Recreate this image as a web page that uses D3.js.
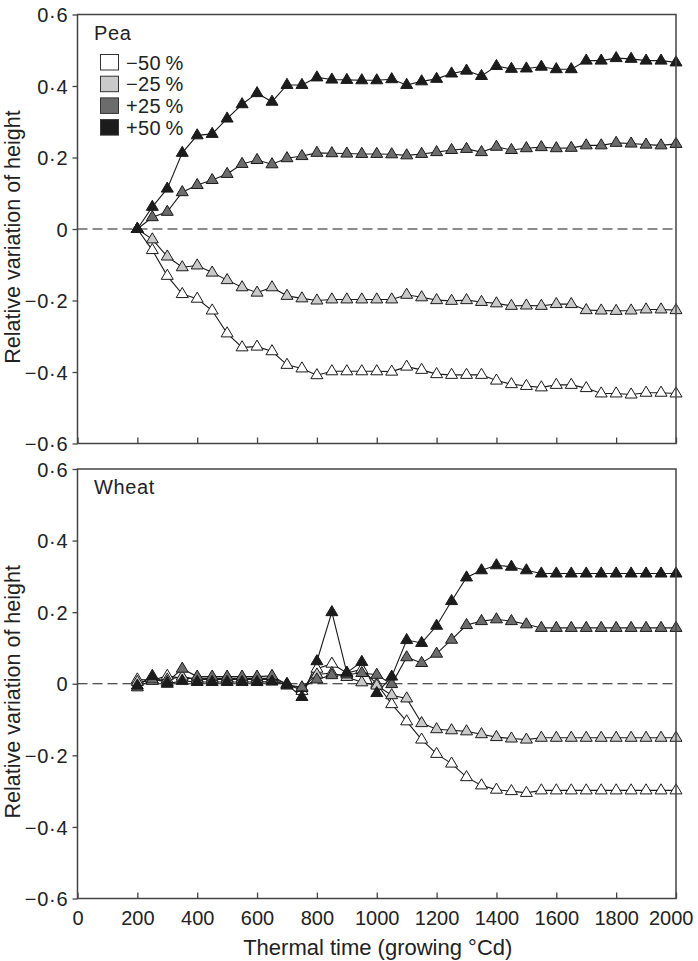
<!DOCTYPE html>
<html><head><meta charset="utf-8">
<script src="https://cdn.jsdelivr.net/npm/d3@7"></script>
<style>body{margin:0;background:#fff}svg{display:block}</style>
</head><body><svg id="c" width="698" height="961"></svg>
<script>
// ---------- data ----------
const thermalTime = [200,250,300,350,400,450,500,550,600,650,700,750,800,850,900,950,1000,1050,1100,1150,1200,1250,1300,1350,1400,1450,1500,1550,1600,1650,1700,1750,1800,1850,1900,1950,2000];
const seriesNames = ["−50\u2009%","−25\u2009%","+25\u2009%","+50\u2009%"];
const panelNames = ["Pea","Wheat"];

const peaMinus50 = [0,-0.059,-0.131,-0.182,-0.195,-0.228,-0.292,-0.331,-0.329,-0.342,-0.38,-0.39,-0.409,-0.398,-0.398,-0.398,-0.398,
  -0.399,-0.385,-0.394,-0.406,-0.408,-0.408,-0.408,-0.424,-0.434,-0.439,-0.443,-0.436,-0.436,-0.445,-0.46,-0.46,-0.463,-0.458,-0.458,-0.46];
const peaMinus25 = [0,-0.029,-0.077,-0.107,-0.102,-0.122,-0.143,-0.163,-0.178,-0.163,-0.187,-0.194,-0.2,-0.197,-0.197,-0.197,-0.197,
  -0.197,-0.184,-0.191,-0.199,-0.201,-0.199,-0.204,-0.208,-0.215,-0.214,-0.215,-0.21,-0.21,-0.227,-0.228,-0.229,-0.228,-0.225,-0.225,-0.227];
const peaPlus25 = [0,0.033,0.048,0.103,0.123,0.137,0.154,0.182,0.193,0.181,0.198,0.204,0.213,0.212,0.211,0.21,0.21,
  0.209,0.206,0.21,0.215,0.221,0.224,0.215,0.23,0.221,0.226,0.229,0.226,0.227,0.234,0.234,0.241,0.239,0.236,0.234,0.238];
const peaPlus50 = [0,0.062,0.113,0.213,0.262,0.266,0.309,0.349,0.38,0.356,0.403,0.403,0.424,0.418,0.417,0.416,0.416,
  0.419,0.403,0.413,0.42,0.435,0.443,0.428,0.456,0.448,0.449,0.454,0.447,0.447,0.471,0.471,0.478,0.476,0.471,0.471,0.466];

const wheatMinus50 = [0.012,0.01,0.022,0.015,0.015,0.015,0.015,0.015,0.015,0.015,0.0,-0.02,0.042,0.056,0.03,0.04,0.0,
  -0.057,-0.105,-0.156,-0.196,-0.223,-0.261,-0.284,-0.296,-0.3,-0.305,-0.298,-0.298,-0.298,-0.298,-0.298,-0.298,-0.298,-0.298,-0.298,-0.298];
const wheatMinus25 = [0.005,0.008,0.012,0.02,0.012,0.012,0.012,0.012,0.012,0.012,-0.005,-0.012,0.026,0.03,0.019,0.004,-0.005,
  -0.032,-0.041,-0.11,-0.127,-0.13,-0.133,-0.141,-0.149,-0.153,-0.156,-0.151,-0.151,-0.151,-0.151,-0.151,-0.151,-0.151,-0.151,-0.151,-0.151];
const wheatPlus25 = [-0.01,0.012,0.005,0.042,0.02,0.02,0.02,0.02,0.02,0.022,-0.003,-0.01,0.012,0.024,0.026,0.03,0.025,
  -0.001,0.074,0.058,0.084,0.123,0.164,0.175,0.18,0.175,0.166,0.156,0.156,0.156,0.156,0.156,0.156,0.156,0.156,0.156,0.156];
const wheatPlus50 = [-0.005,0.022,0.0,0.008,0.005,0.005,0.005,0.005,0.005,0.006,-0.002,-0.037,0.063,0.2,0.031,0.061,-0.026,
  0.02,0.122,0.114,0.162,0.231,0.297,0.317,0.331,0.327,0.317,0.308,0.308,0.308,0.308,0.308,0.308,0.308,0.308,0.308,0.308];

const yTicks = [-0.6,-0.4,-0.2,0,0.2,0.4,0.6];
const yTickLabels = ["−0·6","−0·4","−0·2","0","0·2","0·4","0·6"];
const xTicks = [0,200,400,600,800,1000,1200,1400,1600,1800,2000];
const xTickLabels = ["0","200","400","600","800","1000","1200","1400","1600","1800","2000"];
const xTitle = "Thermal time (growing °Cd)";
const yTitle = "Relative variation of height";

// ---------- styling ----------
const fills = ["#ffffff","#c9c9c9","#6c6c6c","#1c1c1c"];
const FONT = "'Liberation Sans', Arial, Helvetica, sans-serif";
const svg = d3.select("#c");

const x = d3.scaleLinear().domain([0,2000]).range([77.5,676]);
const panels = [
  {name: panelNames[0], series:[peaMinus50,peaMinus25,peaPlus25,peaPlus50], top:14.5, bottom:443.5, legend:true, xLabels:false},
  {name: panelNames[1], series:[wheatMinus50,wheatMinus25,wheatPlus25,wheatPlus50], top:469, bottom:898.5, legend:false, xLabels:true}
];

const tri = "M0,-6.6L6,3.5L-6,3.5Z";

panels.forEach(p => {
  const y = d3.scaleLinear().domain([-0.6,0.6]).range([p.bottom,p.top]);
  const g = svg.append("g");

  // zero dashed line
  g.append("line").attr("x1",x(0)).attr("x2",x(2000)).attr("y1",y(0)).attr("y2",y(0))
    .attr("stroke","#1a1a1a").attr("stroke-width",1.2).attr("stroke-dasharray","10,5");

  // series
  p.series.forEach((vals,i) => {
    const pts = thermalTime.map((t,k)=>[t,vals[k]]);
    g.append("path").datum(pts)
      .attr("d", d3.line().x(d=>x(d[0])).y(d=>y(d[1])))
      .attr("fill","none").attr("stroke","#1a1a1a").attr("stroke-width",1.1);
  });
  p.series.forEach((vals,i) => {
    g.append("g").selectAll("path").data(thermalTime.map((t,k)=>[t,vals[k]])).join("path")
      .attr("d",tri).attr("transform",d=>`translate(${x(d[0])},${y(d[1])})`)
      .attr("fill",fills[i]).attr("stroke","#1a1a1a").attr("stroke-width",1);
  });

  // frame
  g.append("rect").attr("x",x(0)).attr("y",p.top).attr("width",x(2000)-x(0)).attr("height",p.bottom-p.top)
    .attr("fill","none").attr("stroke","#444").attr("stroke-width",1.5);

  // y axis
  const ya = d3.axisLeft(y).tickValues(yTicks).tickSize(5).tickPadding(4)
    .tickFormat((d,i)=>yTickLabels[i]);
  const yg = g.append("g").attr("transform",`translate(${x(0)},0)`).call(ya);
  yg.select(".domain").remove();
  yg.selectAll("line").attr("stroke","#444").attr("stroke-width",1.3);
  yg.selectAll("text").attr("font-family",FONT).attr("font-size",20).attr("fill","#222")
    .attr("letter-spacing","0.8px").attr("dy","0.36em");

  // x axis (ticks inward)
  const xa = d3.axisBottom(x).tickValues(xTicks).tickSize(-6).tickPadding(12)
    .tickFormat((d,i)=>p.xLabels ? xTickLabels[i] : "");
  const xg = g.append("g").attr("transform",`translate(0,${p.bottom})`).call(xa);
  xg.select(".domain").remove();
  xg.selectAll("line").attr("stroke","#444").attr("stroke-width",1.3);
  xg.selectAll("text").attr("font-family",FONT).attr("font-size",20).attr("fill","#222")
    .attr("y",26).attr("dy",0);
  // keep the last label inside the picture, as in the reference
  xg.selectAll("text").filter(d=>d===2000).attr("text-anchor","end").attr("x",17);

  // panel name
  g.append("text").attr("x",94).attr("y",p.top+25).text(p.name)
    .attr("font-family",FONT).attr("font-size",20).attr("fill","#222").attr("letter-spacing","0.6px");

  // y title
  g.append("text").attr("transform",`translate(19.5,${(p.top+p.bottom)/2+8}) rotate(-90)`)
    .attr("text-anchor","middle").text(yTitle)
    .attr("font-family",FONT).attr("font-size",21.5).attr("fill","#222");

  // legend
  if (p.legend) {
    seriesNames.forEach((n,i) => {
      const cy = 62.5 + i*21.7;
      g.append("rect").attr("x",100.5).attr("y",cy-8).attr("width",18).attr("height",15.5)
        .attr("fill",fills[i]).attr("stroke","#333").attr("stroke-width",1);
      g.append("text").attr("x",126).attr("y",cy+7).text(n)
        .attr("font-family",FONT).attr("font-size",20).attr("fill","#222").attr("letter-spacing","0.4px");
    });
  }
});

// x title
svg.append("text").attr("x",(x(0)+x(2000))/2+1).attr("y",955).attr("text-anchor","middle").text(xTitle)
  .attr("font-family",FONT).attr("font-size",22).attr("fill","#222");
</script>
</body></html>
